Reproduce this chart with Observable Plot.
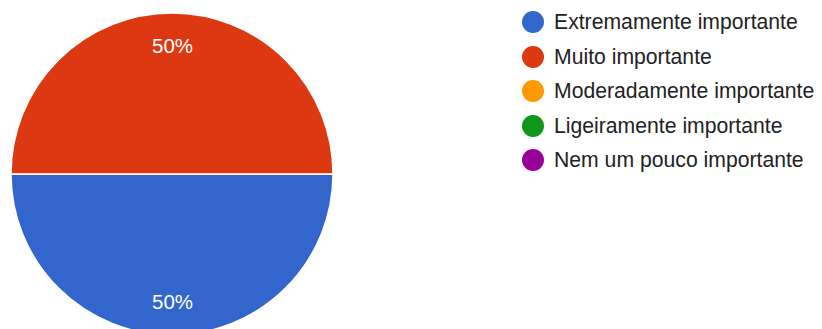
<!DOCTYPE html>
<html>
<head>
<meta charset="utf-8">
<script src="https://cdn.jsdelivr.net/npm/d3@7"></script>
<script src="https://cdn.jsdelivr.net/npm/@observablehq/plot@0.6"></script>
<style>
  html, body { margin: 0; padding: 0; background: #fff; }
  #wrap { position: relative; width: 822px; height: 329px; overflow: hidden; }
  #legend { position: absolute; left: 522px; top: 5px; font-family: "Liberation Sans", Arial, sans-serif; font-size: 21.2px; color: #222; }
  .row { display: flex; align-items: center; height: 34.5px; white-space: nowrap; }
  .sw { width: 22px; height: 22px; border-radius: 50%; margin-right: 10px; flex: none; }
</style>
</head>
<body>
<div id="wrap"></div>
<script>
const categories = ["Extremamente importante", "Muito importante", "Moderadamente importante", "Ligeiramente importante", "Nem um pouco importante"];
const values = [50, 50, 0, 0, 0];
const colors = ["#3366CC", "#DC3912", "#FF9900", "#109618", "#990099"];

const data = categories.map((c, i) => ({category: c, value: values[i]}));
const total = d3.sum(values);
const arcs = d3.pie().sort(null).value(d => d.value).startAngle(Math.PI / 2).endAngle(Math.PI / 2 + 2 * Math.PI)(data);

// label positions in data units (unit radius)
const labelArc = d3.arc().innerRadius(0.795).outerRadius(0.795);
const labels = arcs.filter(a => a.data.value > 0).map(a => {
  const [cx, cy] = labelArc.centroid(a);
  return {x: cx, y: -cy, text: Math.round(a.data.value / total * 100) + "%"};
});

const color = d3.scaleOrdinal(categories, colors);

const pieMark = (index, scales, vals, dims, context) => {
  const x = scales.x, y = scales.y;
  const cx = x(0), cy = y(0), r = x(1) - x(0);
  const g = d3.create("svg:g").attr("transform", `translate(${cx},${cy})`);
  const arc = d3.arc().innerRadius(0).outerRadius(r);
  g.selectAll("path")
    .data(arcs.filter(a => a.data.value > 0))
    .join("path")
    .attr("d", arc)
    .attr("fill", a => color(a.data.category))
    .attr("stroke", "#fff")
    .attr("stroke-width", 1.5);
  return g.node();
};

const chart = Plot.plot({
  width: 822,
  height: 329,
  margin: 0,
  x: {domain: [-1, 1], range: [11, 333], axis: null},
  y: {domain: [-1, 1], range: [335, 13], axis: null},
  style: {fontFamily: "'Liberation Sans', Arial, sans-serif", background: "#fff"},
  marks: [
    pieMark,
    Plot.text(labels, {x: "x", y: "y", text: "text", fill: "#fff", fontSize: 20.5})
  ]
});
const wrap = document.getElementById("wrap");
wrap.appendChild(chart);

const legend = document.createElement("div");
legend.id = "legend";
categories.forEach((c, i) => {
  const row = document.createElement("div");
  row.className = "row";
  const sw = document.createElement("span");
  sw.className = "sw";
  sw.style.background = color(c);
  const t = document.createElement("span");
  t.textContent = c;
  row.appendChild(sw); row.appendChild(t);
  legend.appendChild(row);
});
wrap.appendChild(legend);
</script>
</body>
</html>
